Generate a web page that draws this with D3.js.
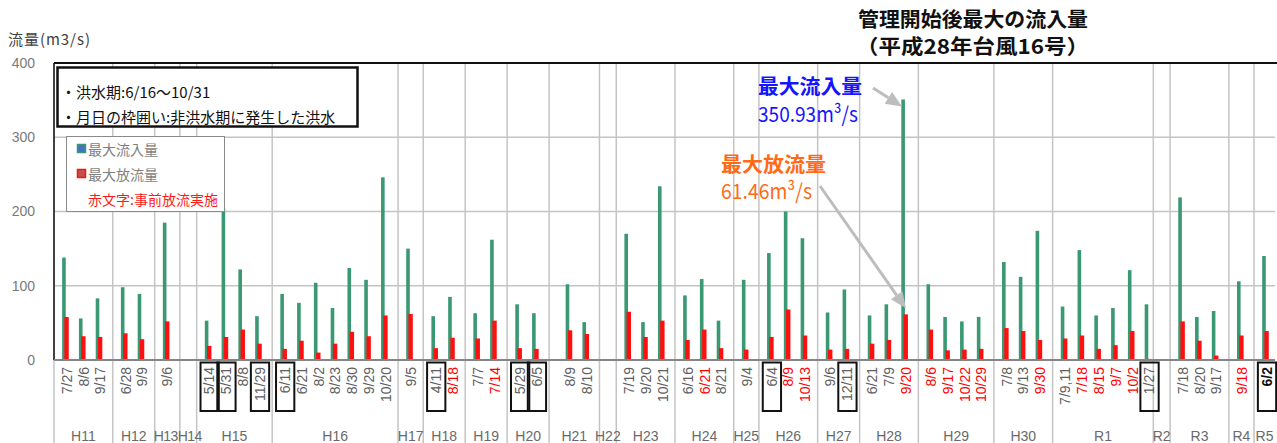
<!DOCTYPE html>
<html>
<head>
<meta charset="utf-8">
<script src="https://cdn.jsdelivr.net/npm/d3@7"></script>
<style>
  body { margin: 0; background: #fff; }
  svg { display: block; }
</style>
</head>
<body>
<svg id="chart" width="1277" height="443"></svg>
<script>
// year groups on the category axis (empty years keep one blank slot)
const years = ['H11','H12','H13','H14','H15','H16','H17','H18','H19','H20','H21','H22','H23','H24','H25','H26','H27','H28','H29','H30','R1','R2','R3','R4','R5']

// one entry per flood event
const eventYear = [
  'H11','H11','H11', 'H12','H12', 'H13',
  'H15','H15','H15','H15',
  'H16','H16','H16','H16','H16','H16','H16',
  'H17', 'H18','H18', 'H19','H19', 'H20','H20', 'H21','H21',
  'H23','H23','H23', 'H24','H24','H24', 'H25',
  'H26','H26','H26', 'H27','H27', 'H28','H28','H28',
  'H29','H29','H29','H29', 'H30','H30','H30',
  'R1','R1','R1','R1','R1','R1',
  'R3','R3','R3', 'R4', 'R5'
]
const eventDate = [
  '7/27','8/6','9/17', '6/28','9/9', '9/6',
  '5/14','5/31','8/8','11/29',
  '6/11','6/21','8/2','8/23','8/30','9/29','10/20',
  '9/5', '4/11','8/18', '7/7','7/14', '5/29','6/5', '8/9','8/10',
  '7/19','9/20','10/21', '6/16','6/21','8/21', '9/4',
  '6/4','8/9','10/13', '9/6','12/11', '6/21','7/9','9/20',
  '8/6','9/17','10/22','10/29', '7/8','9/13','9/30',
  '7/9,11','7/18','8/15','9/7','10/2','1/27',
  '7/18','8/20','9/17', '9/18', '6/2'
]
// n: normal, r: red (事前放流実施), b: boxed (非洪水期)
const labelStyle = [
  'n','n','n', 'n','n', 'n',
  'b','b','n','b',
  'b','n','n','n','n','n','n',
  'n', 'b','r', 'n','r', 'b','b', 'n','n',
  'n','n','n', 'n','r','n', 'n',
  'b','r','r', 'n','b', 'n','n','r',
  'r','r','r','r', 'n','n','r',
  'n','r','r','r','r','b',
  'n','n','n', 'r', 'b'
]

// 最大流入量 (m3/s)
const inflow = [
  138, 56, 83, 98, 89, 185,
  53, 205, 122, 59,
  89, 77, 104, 70, 124, 108, 246,
  150, 59, 85, 63, 162, 75, 63, 102, 51,
  170, 51, 234, 87, 109, 53, 108,
  144, 200, 164, 64, 95, 60, 75, 350.93,
  102, 58, 52, 58, 132, 112, 174,
  72, 148, 60, 70, 121, 75,
  219, 58, 66, 106, 140
]
// 最大放流量 (m3/s)
const outflow = [
  58, 32, 31, 36, 28, 52,
  19, 31, 41, 22,
  15, 26, 10, 22, 38, 32, 60,
  62, 16, 30, 29, 53, 16, 15, 40, 35,
  65, 31, 53, 27, 41, 16, 14,
  31, 68, 33, 14, 15, 22, 27, 61.46,
  41, 13, 14, 15, 43, 39, 27,
  29, 33, 15, 20, 39, 1.5,
  52, 26, 6, 33, 39
]
const yTicks = [0, 100, 200, 300, 400]

const svg = d3.select('#chart')
const plot = { left: 54, right: 1275, top: 63, bottom: 360 }

// slot layout: bars one slot apart, half a slot between year groups
let u = 0
const groups = []
const eventPos = []
years.forEach(yr => {
  const idx = eventYear.map((y, i) => y === yr ? i : -1).filter(i => i >= 0)
  const start = u
  if (!idx.length) {
    u += 1
  } else {
    const pre = yr === 'H21' ? 0.5 : 0
    idx.forEach((e, k) => { eventPos[e] = start + pre + 0.7 + k })
    u += pre + idx.length + (yr === 'R1' ? 0 : 0.5)
  }
  groups.push({ year: yr, start, end: u })
})

const x = d3.scaleLinear().domain([0, 72.75]).range([plot.left, plot.right])
const y = d3.scaleLinear().domain([0, 400]).range([plot.bottom, plot.top])
const slot = x(1) - x(0)
const grey = '#c4c4c4'

// horizontal gridlines
svg.append('g').selectAll('line')
  .data(yTicks.filter(t => t > 0 && t < 400))
  .enter().append('line')
  .attr('x1', plot.left).attr('x2', plot.right)
  .attr('y1', d => y(d)).attr('y2', d => y(d))
  .style('stroke', grey).style('stroke-width', 1.5)

// vertical year separators, running down through the label area
svg.append('g').selectAll('line')
  .data(groups.slice(0, -1).map(g => g.end).concat([0]))
  .enter().append('line')
  .attr('x1', d => x(d)).attr('x2', d => x(d))
  .attr('y1', plot.top).attr('y2', 443)
  .style('stroke', grey).style('stroke-width', 1.5)

// plot frame
svg.append('line').attr('x1', plot.left).attr('x2', 1277).attr('y1', plot.top).attr('y2', plot.top)
  .style('stroke', '#111').style('stroke-width', 2)
svg.append('line').attr('x1', plot.left).attr('x2', plot.left).attr('y1', plot.top).attr('y2', plot.bottom)
  .style('stroke', '#111').style('stroke-width', 1.5)

// bars
const bars = svg.append('g')
bars.selectAll('.inflow')
  .data(inflow)
  .enter().append('rect')
  .attr('class', 'inflow')
  .attr('x', (d, i) => x(eventPos[i]) - 3.6)
  .attr('width', 3.6)
  .attr('y', d => y(d))
  .attr('height', d => plot.bottom - y(d))
  .style('fill', '#3a9873')
bars.selectAll('.outflow')
  .data(outflow)
  .enter().append('rect')
  .attr('class', 'outflow')
  .attr('x', (d, i) => x(eventPos[i]) - 1.4)
  .attr('width', 4.4)
  .attr('y', d => y(d))
  .attr('height', d => plot.bottom - y(d))
  .style('fill', '#ff1010')

// x axis line
svg.append('line').attr('x1', plot.left).attr('x2', plot.right).attr('y1', plot.bottom).attr('y2', plot.bottom)
  .style('stroke', '#858585').style('stroke-width', 2)

// y axis
const yAxis = svg.append('g')
  .attr('transform', `translate(${plot.left},0)`)
  .call(d3.axisLeft(y).tickValues(yTicks).tickSize(0).tickPadding(19))
yAxis.select('.domain').remove()
yAxis.selectAll('text')
  .style('font-family', 'Liberation Sans, Arial, sans-serif')
  .style('font-size', '14px')
  .style('fill', '#7a7a7a')

svg.append('text')
  .attr('x', 8).attr('y', 38)
  .attr('dominant-baseline', 'central')
  .attr('textLength', 82).attr('lengthAdjust', 'spacing')
  .style('font-family', 'Noto Sans CJK JP, sans-serif')
  .style('font-size', '15px')
  .style('fill', '#404040')
  .text('流量(m3/s)')

// date labels
const labels = svg.append('g')
labels.selectAll('rect')
  .data(eventDate.map((d, i) => i).filter(i => labelStyle[i] === 'b'))
  .enter().append('rect')
  .attr('x', i => x(eventPos[i]) - slot / 2 + 0.5)
  .attr('y', 362.5)
  .attr('width', slot + 1.5)
  .attr('height', 48.5)
  .style('fill', 'none')
  .style('stroke', '#111')
  .style('stroke-width', 2)
labels.selectAll('text')
  .data(eventDate)
  .enter().append('text')
  .attr('transform', (d, i) => `translate(${x(eventPos[i]) + 1},367) rotate(-90)`)
  .attr('text-anchor', 'end')
  .attr('dy', '0.36em')
  .style('font-family', 'Liberation Sans, Arial, sans-serif')
  .style('font-size', '14px')
  .style('font-weight', (d, i) => i === eventDate.length - 1 ? 'bold' : 'normal')
  .style('fill', (d, i) => labelStyle[i] === 'r' ? '#ff0000' : i === eventDate.length - 1 ? '#111' : '#606060')
  .text(d => d)

// year labels
svg.append('g').selectAll('text')
  .data(groups)
  .enter().append('text')
  .attr('x', g => x((g.start + Math.min(g.end, 72.75)) / 2) + (g.year === 'H13' ? -1.5 : g.year === 'H14' ? 1.5 : 0))
  .attr('y', 436)
  .attr('text-anchor', 'middle')
  .attr('dominant-baseline', 'central')
  .style('font-family', 'Liberation Sans, Arial, sans-serif')
  .style('font-size', '14px')
  .style('letter-spacing', g => g.year === 'H13' || g.year === 'H14' ? '-0.6px' : '0px')
  .style('fill', '#6a6a6a')
  .text(g => g.year)

// note box
const cjk = 'Noto Sans CJK JP, sans-serif'
svg.append('rect')
  .attr('x', 57.5).attr('y', 67.5).attr('width', 300).attr('height', 59)
  .style('fill', '#fff').style('stroke', '#111').style('stroke-width', 2.5)
svg.append('g').selectAll('text')
  .data(['・洪水期:6/16～10/31', '・月日の枠囲い:非洪水期に発生した洪水'])
  .enter().append('text')
  .attr('x', 61)
  .attr('y', (d, i) => 91 + i * 25)
  .attr('dominant-baseline', 'central')
  .style('font-family', cjk)
  .style('font-size', '15px')
  .style('fill', '#111')
  .text(d => d)

// legend
const legend = svg.append('g')
legend.append('rect')
  .attr('x', 66.5).attr('y', 136.5).attr('width', 158).attr('height', 75)
  .style('fill', '#fff').style('stroke', '#8a8a8a').style('stroke-width', 1)
const legendItems = [
  { name: '最大流入量', fill: '#4472c4', stroke: '#3a9873' },
  { name: '最大放流量', fill: '#c0504d', stroke: '#ff1010' }
]
legendItems.forEach((it, i) => {
  legend.append('rect')
    .attr('x', 77.5).attr('y', 144.5 + i * 25).attr('width', 8).attr('height', 8)
    .style('fill', it.fill).style('stroke', it.stroke).style('stroke-width', 1.5)
  legend.append('text')
    .attr('x', 88).attr('y', 149 + i * 25)
    .attr('dominant-baseline', 'central')
    .style('font-family', cjk).style('font-size', '14px').style('fill', '#7f7f7f')
    .text(it.name)
})
legend.append('text')
  .attr('x', 88).attr('y', 199)
  .attr('dominant-baseline', 'central')
  .style('font-family', cjk).style('font-size', '14px').style('fill', '#ff1a1a')
  .text('赤文字:事前放流実施')

// annotations
const ann = svg.append('g').style('font-family', cjk).style('font-weight', 'bold')
ann.append('text').attr('x', 858).attr('y', 18).attr('dominant-baseline', 'central')
  .attr('textLength', 230).attr('lengthAdjust', 'spacingAndGlyphs')
  .style('font-size', '20px').style('fill', '#111').text('管理開始後最大の流入量')
ann.append('text').attr('x', 856).attr('y', 45).attr('dominant-baseline', 'central')
  .attr('textLength', 233).attr('lengthAdjust', 'spacingAndGlyphs')
  .style('font-size', '20px').style('fill', '#111').text('（平成28年台風16号）')
ann.append('text').attr('x', 758).attr('y', 85).attr('dominant-baseline', 'central')
  .attr('textLength', 104).attr('lengthAdjust', 'spacingAndGlyphs')
  .style('font-size', '20px').style('fill', '#1414ff').text('最大流入量')
ann.append('text').attr('x', 758).attr('y', 113).attr('dominant-baseline', 'central')
  .attr('textLength', 100).attr('lengthAdjust', 'spacingAndGlyphs')
  .style('font-size', '21px').style('font-weight', 'normal').style('fill', '#1414ff').text('350.93m³/s')
ann.append('text').attr('x', 721).attr('y', 163).attr('dominant-baseline', 'central')
  .attr('textLength', 105).attr('lengthAdjust', 'spacingAndGlyphs')
  .style('font-size', '20px').style('fill', '#ff6a16').text('最大放流量')
ann.append('text').attr('x', 721).attr('y', 190).attr('dominant-baseline', 'central')
  .attr('textLength', 91).attr('lengthAdjust', 'spacingAndGlyphs')
  .style('font-size', '21px').style('font-weight', 'normal').style('fill', '#ff6a16').text('61.46m³/s')

// grey arrows pointing at the H28 9/20 bars
const peak = inflow.indexOf(d3.max(inflow))
const arrows = [
  { from: [873, 88], to: [x(eventPos[peak]) - 3, y(inflow[peak]) + 7] },
  { from: [820, 186], to: [x(eventPos[peak]) + 1, y(outflow[peak]) - 6] }
]
arrows.forEach(a => {
  const [x0, y0] = a.from, [x1, y1] = a.to
  const ang = Math.atan2(y1 - y0, x1 - x0)
  const len = 16, half = 7
  const bx = x1 - len * Math.cos(ang), by = y1 - len * Math.sin(ang)
  svg.append('line')
    .attr('x1', x0).attr('y1', y0).attr('x2', bx).attr('y2', by)
    .style('stroke', '#bdbdbd').style('stroke-width', 3)
  svg.append('path')
    .attr('d', d3.line()([
      [x1, y1],
      [bx + half * Math.sin(ang), by - half * Math.cos(ang)],
      [bx - half * Math.sin(ang), by + half * Math.cos(ang)]
    ]) + 'Z')
    .style('fill', '#bdbdbd')
})
</script>
</body>
</html>
